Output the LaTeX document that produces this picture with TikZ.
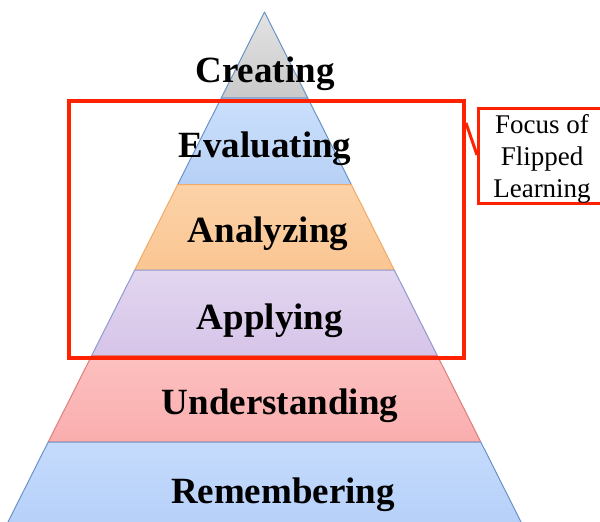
\documentclass[tikz,border=0pt]{standalone}
\usepackage{fontspec}
\setmainfont{Liberation Serif}
\definecolor{focusred}{HTML}{FF2200}
\definecolor{edgeblue}{HTML}{6A93C9}
\definecolor{edgeorange}{HTML}{F2AA66}
\definecolor{edgered}{HTML}{E07C7C}
\definecolor{edgepurple}{HTML}{8E9AD0}
\newcommand\pyrband[3]{\path[#3] ({264.5-(#1-12)*0.503},#1) -- ({264.5+(#1-12)*0.503},#1) -- ({264.5+(#2-12)*0.503},#2) -- ({264.5-(#2-12)*0.503},#2) -- cycle;}
\tikzset{
  lvl/.style={font=\fontsize{37}{40}\selectfont\bfseries, anchor=base, inner sep=0pt},
  foctxt/.style={font=\fontsize{27}{32}\selectfont, anchor=base, inner sep=0pt},
  bandedge/.style={line width=1pt, line join=round}
}
\begin{document}
\begin{tikzpicture}[x=1pt,y=-1pt]
\clip (0,0) rectangle (600,522);
\fill[white] (0,0) rectangle (600,522);
% bands
\pyrband{12}{98}{bandedge, draw=edgeblue, top color=gray!22, bottom color=gray!42}
\pyrband{98}{184.5}{bandedge, draw=edgeblue, top color={rgb,255:red,204;green,224;blue,252}, bottom color={rgb,255:red,182;green,208;blue,245}}
\pyrband{184.5}{270}{bandedge, draw=edgeorange, top color={rgb,255:red,252;green,210;blue,168}, bottom color={rgb,255:red,250;green,198;blue,146}}
\pyrband{270}{355.5}{bandedge, draw=edgepurple, top color={rgb,255:red,226;green,214;blue,240}, bottom color={rgb,255:red,214;green,196;blue,232}}
\pyrband{355.5}{442}{bandedge, draw=edgered, top color={rgb,255:red,253;green,192;blue,192}, bottom color={rgb,255:red,250;green,174;blue,174}}
\pyrband{442}{540}{bandedge, draw=edgeblue, top color={rgb,255:red,196;green,219;blue,252}, bottom color={rgb,255:red,180;green,206;blue,248}}
% labels
\node[lvl] (creating) at (265,82) {Creating};
\node[lvl] (evaluating) at (265,157) {Evaluating};
\node[lvl] (analyzing) at (268,242) {Analyzing};
\node[lvl] (applying) at (270,329) {Applying};
\node[lvl] (understanding) at (280,414) {Understanding};
\node[lvl] (remembering) at (283,503) {Remembering};
% focus rectangle
\node[draw=focusred, line width=4pt, anchor=north west, minimum width=395pt, minimum height=257pt, inner sep=0pt] (focus) at (67,99) {};
% callout
\node[draw=focusred, line width=3pt, anchor=north west, minimum width=130pt, minimum height=95pt, inner sep=0pt, fill=white] (callout) at (477,107) {};
\node[foctxt] (foc1) at (542,133) {Focus of};
\node[foctxt] (foc2) at (542,165) {Flipped};
\node[foctxt] (foc3) at (542,197) {Learning};
\path (focus.north east) ++(0,24) coordinate (c1);
\path (callout.north west) ++(0,48) coordinate (c2);
\draw[focusred, line width=3pt] (c1) -- (c2);
\end{tikzpicture}
\end{document}
